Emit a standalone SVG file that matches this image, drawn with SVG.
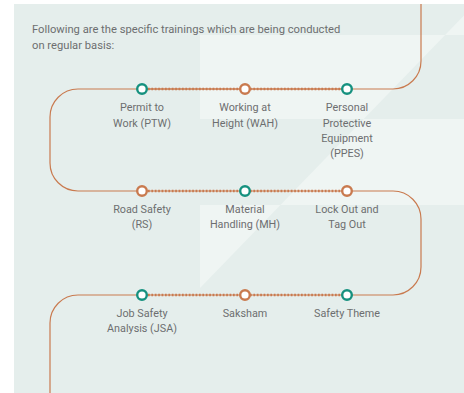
<svg xmlns="http://www.w3.org/2000/svg" width="464" height="393" viewBox="0 0 464 393">
<defs>
<clipPath id="panelClip"><rect x="14" y="4" width="450" height="389"/></clipPath>
<style>
.txt{font-family:"Roboto","Liberation Sans",sans-serif;font-size:11.2px;fill:#6d6e70}
.lbl{font-family:"Roboto","Liberation Sans",sans-serif;font-size:10.8px;fill:#6d6e70;text-anchor:middle}
.track{fill:none;stroke:#c97a4f;stroke-width:1.2}
.dline{stroke:#c97a4f;stroke-width:1}
.dots{stroke:#c97a4f;stroke-width:2.4;stroke-dasharray:1.7 1.7}
.nt{fill:#ffffff;stroke:#16917f;stroke-width:2.4}
.no{fill:#ffffff;stroke:#c97a4f;stroke-width:2.4}
</style>
</defs>
<rect x="0" y="0" width="464" height="393" fill="#ffffff"/>
<rect x="14" y="4" width="450" height="389" fill="#e5eeec"/>
<path clip-path="url(#panelClip)" fill="#eff5f3" fill-rule="evenodd" d="M200,35 H464 V119 H200 Z M200,205 H464 V393 H200 Z M200,288 L479,0 H470 V393 H200 Z"/>

<text class="txt" x="32" y="33">Following are the specific trainings which are being conducted</text>
<text class="txt" x="32" y="49">on regular basis:</text>

<g id="connectors">
<path class="track" d="M421,4 V61 A28,28 0 0 1 393,89 H142 M142,89 H78 A28,28 0 0 0 50,117 V163 A28,28 0 0 0 78,191 H142 M347,191 H393 A28,28 0 0 1 421,219 V267 A28,28 0 0 1 393,295 H347 M142,295 H78 A28,28 0 0 0 50,323 V393"/>
<line class="dline" x1="142" y1="89" x2="347" y2="89"/>
<line class="dots" x1="148" y1="89" x2="341" y2="89"/>
<line class="dline" x1="142" y1="191" x2="347" y2="191"/>
<line class="dots" x1="148" y1="191" x2="341" y2="191"/>
<line class="dline" x1="142" y1="295" x2="347" y2="295"/>
<line class="dots" x1="148" y1="295" x2="341" y2="295"/>
</g>

<g id="ptw"><circle class="nt" cx="142" cy="89" r="4.8"/><text class="lbl" x="142" y="111">Permit to</text><text class="lbl" x="142" y="126.5">Work (PTW)</text></g>
<g id="wah"><circle class="no" cx="245" cy="89" r="4.8"/><text class="lbl" x="245" y="111">Working at</text><text class="lbl" x="245" y="126.5">Height (WAH)</text></g>
<g id="ppes"><circle class="nt" cx="347" cy="89" r="4.8"/><text class="lbl" x="347" y="111">Personal</text><text class="lbl" x="347" y="126.5">Protective</text><text class="lbl" x="347" y="142">Equipment</text><text class="lbl" x="347" y="157">(PPES)</text></g>

<g id="rs"><circle class="no" cx="142" cy="191" r="4.8"/><text class="lbl" x="142" y="213">Road Safety</text><text class="lbl" x="142" y="228">(RS)</text></g>
<g id="mh"><circle class="nt" cx="245" cy="191" r="4.8"/><text class="lbl" x="245" y="213">Material</text><text class="lbl" x="245" y="228">Handling (MH)</text></g>
<g id="loto"><circle class="no" cx="347" cy="191" r="4.8"/><text class="lbl" x="347" y="213">Lock Out and</text><text class="lbl" x="347" y="228">Tag Out</text></g>

<g id="jsa"><circle class="nt" cx="142" cy="295" r="4.8"/><text class="lbl" x="142" y="317">Job Safety</text><text class="lbl" x="142" y="332">Analysis (JSA)</text></g>
<g id="saksham"><circle class="no" cx="245" cy="295" r="4.8"/><text class="lbl" x="245" y="317">Saksham</text></g>
<g id="theme"><circle class="nt" cx="347" cy="295" r="4.8"/><text class="lbl" x="347" y="317">Safety Theme</text></g>
</svg>
